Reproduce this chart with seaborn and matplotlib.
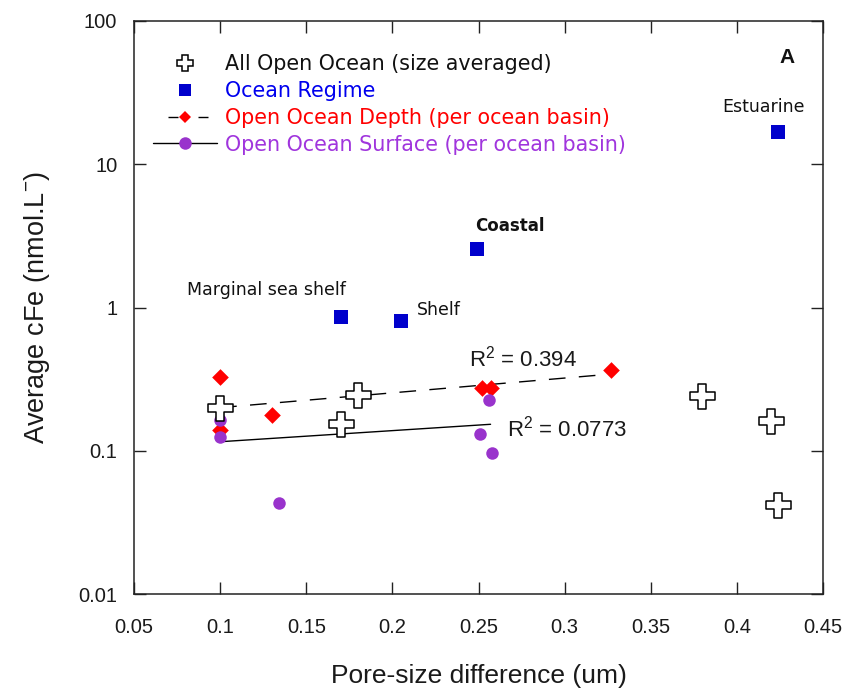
import matplotlib
matplotlib.use("Agg")
import matplotlib.pyplot as plt
from matplotlib.lines import Line2D
from matplotlib.ticker import FixedLocator, FixedFormatter, NullLocator
import numpy as np
import pandas as pd
import seaborn as sns

# ---- data -------------------------------------------------------------
open_x = [0.10, 0.180, 0.170, 0.380, 0.420, 0.424]
open_y = [0.198, 0.245, 0.153, 0.241, 0.162, 0.0418]

regime_names = ["Marginal sea shelf", "Shelf", "Coastal", "Estuarine"]
regime_x = [0.170, 0.205, 0.249, 0.424]
regime_y = [0.855, 0.809, 2.56, 16.9]

depth_x = [0.10, 0.130, 0.10, 0.252, 0.257, 0.327]
depth_y = [0.329, 0.178, 0.140, 0.274, 0.274, 0.366]

surface_x = [0.10, 0.10, 0.134, 0.256, 0.251, 0.258]
surface_y = [0.164, 0.125, 0.0432, 0.226, 0.130, 0.0959]

# fitted trend lines (end points) and their R^2 values
depth_fit_x = [0.10, 0.327]
depth_fit_y = [0.200, 0.343]
depth_r2 = "0.394"
surface_fit_x = [0.10, 0.257]
surface_fit_y = [0.1156, 0.153]
surface_r2 = "0.0773"

x_ticks = [0.05, 0.10, 0.15, 0.20, 0.25, 0.30, 0.35, 0.40, 0.45]
x_tick_labels = ["0.05", "0.1", "0.15", "0.2", "0.25", "0.3", "0.35", "0.4", "0.45"]
y_ticks = [0.01, 0.1, 1, 10, 100]
y_tick_labels = ["0.01", "0.1", "1", "10", "100"]

legend_labels = ["All Open Ocean (size averaged)", "Ocean Regime",
                 "Open Ocean Depth (per ocean basin)",
                 "Open Ocean Surface (per ocean basin)"]

# ---- style ------------------------------------------------------------
sns.set_style("ticks")
plt.rcParams["font.family"] = ["DejaVu Sans"]
plt.rcParams["mathtext.fontset"] = "custom"
plt.rcParams["mathtext.rm"] = "Liberation Sans"
plt.rcParams["mathtext.it"] = "Liberation Sans"

BLUE = "#0000CC"
RED = "#FF0000"
PURPLE = "#9933CC"
INK = "#1a1a1a"
ARIAL = ["Liberation Sans", "DejaVu Sans"]

fig = plt.figure(figsize=(8.49, 6.93), dpi=100)
ax = fig.add_axes([134 / 849, 1 - 594 / 693, (823 - 134) / 849, (594 - 21) / 693])
ax.set_yscale("log")

# trend lines
sns.lineplot(x=depth_fit_x, y=depth_fit_y, ax=ax, color="black", lw=1.0,
             dashes=False, zorder=2, estimator=None, sort=False)
ax.lines[-1].set_dashes((12, 9.6))
sns.lineplot(x=surface_fit_x, y=surface_fit_y, ax=ax, color="black", lw=1.0,
             zorder=2, estimator=None, sort=False)

# points
sns.scatterplot(x=depth_x, y=depth_y, ax=ax, marker="D", s=72, color=RED,
                edgecolor=RED, linewidth=0, zorder=3)
sns.scatterplot(x=surface_x, y=surface_y, ax=ax, marker="o", s=81, color=PURPLE,
                edgecolor=PURPLE, linewidth=0, zorder=4)
sns.scatterplot(x=regime_x, y=regime_y, ax=ax, marker="s", s=88, color=BLUE,
                edgecolor=BLUE, linewidth=0, zorder=4)
sns.scatterplot(x=open_x, y=open_y, ax=ax, marker="P", s=324, color="white",
                edgecolor="black", linewidth=1.1, zorder=5)

# labels next to the ocean regime points
label_offsets = {"Marginal sea shelf": (-53.5, 19.7), "Shelf": (27, 7.7),
                 "Coastal": (24, 16.6), "Estuarine": (-10.8, 17.8)}
for name, xv, yv in zip(regime_names, regime_x, regime_y):
    ax.annotate(name, (xv, yv), xytext=label_offsets[name], textcoords="offset points",
                ha="center", va="center", fontsize=12.5 if name != "Coastal" else 12,
                fontweight="bold" if name == "Coastal" else "normal",
                color="#111111", family=["DejaVu Sans"])

ax.text(0.2756, 0.437, r"R$^{2}$ = " + depth_r2, ha="center", va="center",
        fontsize=16, color=INK, family=ARIAL)
ax.text(0.3012, 0.144, r"R$^{2}$ = " + surface_r2, ha="center", va="center",
        fontsize=16, color=INK, family=ARIAL)
ax.text(0.948, 0.937, "A", transform=ax.transAxes, ha="center", va="center",
        fontsize=15, fontweight="bold", color="#111111", family=ARIAL)

# axes
ax.set_xlim(0.05, 0.45)
ax.set_ylim(0.01, 100)
ax.xaxis.set_major_locator(FixedLocator(x_ticks))
ax.xaxis.set_major_formatter(FixedFormatter(x_tick_labels))
ax.yaxis.set_major_locator(FixedLocator(y_ticks))
ax.yaxis.set_major_formatter(FixedFormatter(y_tick_labels))
ax.yaxis.set_minor_locator(NullLocator())
ax.xaxis.set_minor_locator(NullLocator())
ax.tick_params(axis="both", which="major", direction="in", length=8.5, width=1.0,
               color="#222222", top=True, right=True, labelsize=14.5, labelcolor=INK)
ax.tick_params(axis="x", pad=17)
ax.tick_params(axis="y", pad=12)
for lab in ax.get_xticklabels() + ax.get_yticklabels():
    lab.set_family(ARIAL)
for sp in ax.spines.values():
    sp.set_visible(True)
    sp.set_linewidth(1.1)
    sp.set_color("#222222")

ax.set_xlabel("Pore-size difference (um)", fontsize=19, color=INK, family=ARIAL, labelpad=20)
ax.set_ylabel(r"Average cFe (nmol.L$^{-}$)", fontsize=19.5, color=INK, family=ARIAL, labelpad=19)

# legend
handles = [
    Line2D([], [], ls="none", marker="P", ms=12, mfc="white", mec="black", mew=1.1),
    Line2D([], [], ls="none", marker="s", ms=9, mfc=BLUE, mec=BLUE, mew=0),
    Line2D([], [], color="black", lw=1.0, ls=(10.8, (7.2, 14.4)), dash_capstyle="butt",
           marker="D", ms=6.5, mfc=RED, mec=RED, mew=0),
    Line2D([], [], color="black", lw=1.0, marker="o", ms=9, mfc=PURPLE, mec=PURPLE, mew=0),
]
leg = ax.legend(handles, legend_labels, loc="upper left",
                bbox_to_anchor=(0.027, 0.942), frameon=False, borderpad=0,
                borderaxespad=0, handlelength=3.1, handletextpad=0.4,
                labelspacing=0.33, prop={"family": "DejaVu Sans", "size": 14.9},
                labelcolor=["#111111", "#0000EE", "#FF0000", "#A035DD"])

fig.savefig("out.png", dpi=100, facecolor="white")
